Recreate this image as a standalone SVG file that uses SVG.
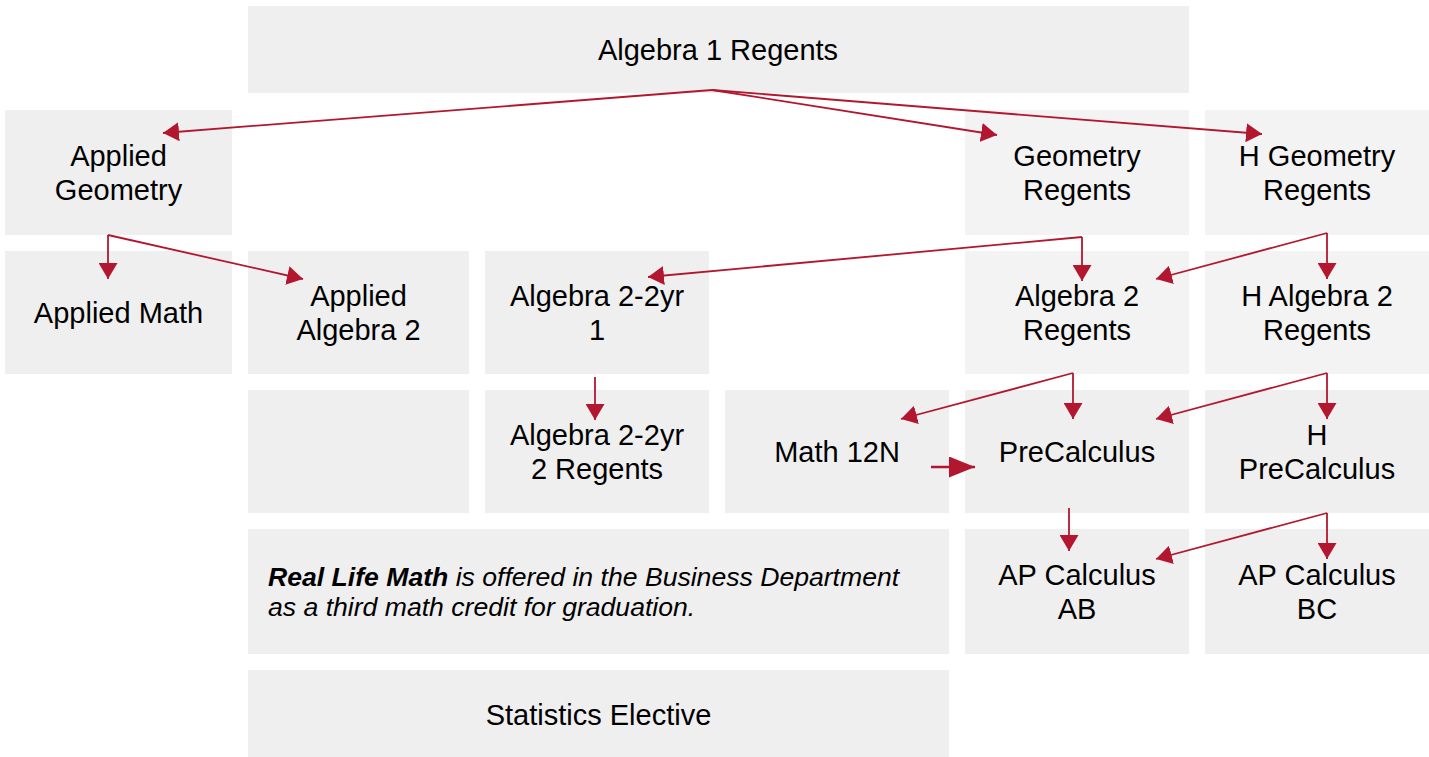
<svg xmlns="http://www.w3.org/2000/svg" width="1429" height="757" viewBox="0 0 1429 757">
<style>
.box{fill:#efefef}
.lt{fill:#f3f3f3}
.t{font-family:"Liberation Sans",Arial,sans-serif;font-size:29px;fill:#000;text-anchor:middle}
.note{font-family:"Liberation Sans",Arial,sans-serif;font-size:26.6px;font-style:italic;fill:#000}
.c{fill:none;stroke:#b3172f;stroke-width:1.8}
.c2{fill:none;stroke:#b3172f;stroke-width:2.6}
</style>
<defs>
<marker id="ah" viewBox="0 0 16 19" refX="16" refY="9.5" markerWidth="16" markerHeight="19" markerUnits="userSpaceOnUse" orient="auto"><path d="M0,0 L16,9.5 L0,19 z" fill="#b3172f"/></marker>
<marker id="ahL" viewBox="0 0 26 21" refX="26" refY="10.5" markerWidth="26" markerHeight="21" markerUnits="userSpaceOnUse" orient="auto"><path d="M0,0 L26,10.5 L0,21 z" fill="#b3172f"/></marker>
</defs>
<rect width="1429" height="757" fill="#fff"/>
<g id="alg1"><rect class="box" x="248" y="6" width="941" height="87"/><text class="t" x="718" y="60">Algebra 1 Regents</text></g>
<g id="appgeo"><rect class="box" x="5" y="110" width="227" height="125"/><text class="t" x="118.5" y="166.3">Applied</text><text class="t" x="118.5" y="199.6">Geometry</text></g>
<g id="georeg"><rect class="lt" x="965" y="110" width="224" height="125"/><text class="t" x="1077" y="166.3">Geometry</text><text class="t" x="1077" y="199.6">Regents</text></g>
<g id="hgeo"><rect class="lt" x="1205" y="110" width="224" height="125"/><text class="t" x="1317" y="166.3">H Geometry</text><text class="t" x="1317" y="199.6">Regents</text></g>
<g id="appmath"><rect class="box" x="5" y="251" width="227" height="123"/><text class="t" x="118.5" y="322.5">Applied Math</text></g>
<g id="appalg2"><rect class="box" x="248" y="251" width="221" height="123"/><text class="t" x="358.5" y="306.3">Applied</text><text class="t" x="358.5" y="339.6">Algebra 2</text></g>
<g id="alg22yr1"><rect class="box" x="485" y="251" width="224" height="123"/><text class="t" x="597" y="306.3">Algebra 2-2yr</text><text class="t" x="597" y="339.6">1</text></g>
<g id="alg2reg"><rect class="lt" x="965" y="251" width="224" height="123"/><text class="t" x="1077" y="306.3">Algebra 2</text><text class="t" x="1077" y="339.6">Regents</text></g>
<g id="halg2"><rect class="lt" x="1205" y="251" width="224" height="123"/><text class="t" x="1317" y="306.3">H Algebra 2</text><text class="t" x="1317" y="339.6">Regents</text></g>
<g id="empty"><rect class="box" x="248" y="390" width="221" height="123"/></g>
<g id="alg22yr2"><rect class="box" x="485" y="390" width="224" height="123"/><text class="t" x="597" y="445.3">Algebra 2-2yr</text><text class="t" x="597" y="478.6">2 Regents</text></g>
<g id="math12n"><rect class="box" x="725" y="390" width="224" height="123"/><text class="t" x="837" y="462">Math 12N</text></g>
<g id="precalc"><rect class="box" x="965" y="390" width="224" height="123"/><text class="t" x="1077" y="462">PreCalculus</text></g>
<g id="hprecalc"><rect class="box" x="1205" y="390" width="224" height="123"/><text class="t" x="1317" y="445.3">H</text><text class="t" x="1317" y="478.6">PreCalculus</text></g>
<g id="note"><rect class="box" x="248" y="529" width="701" height="125"/><text class="note" x="268" y="586"><tspan font-weight="bold">Real Life Math</tspan> is offered in the Business Department</text><text class="note" x="268" y="616">as a third math credit for graduation.</text></g>
<g id="apab"><rect class="box" x="965" y="529" width="224" height="125"/><text class="t" x="1077" y="585.3">AP Calculus</text><text class="t" x="1077" y="618.6">AB</text></g>
<g id="apbc"><rect class="box" x="1205" y="529" width="224" height="125"/><text class="t" x="1317" y="585.3">AP Calculus</text><text class="t" x="1317" y="618.6">BC</text></g>
<g id="stats"><rect class="box" x="248" y="670" width="701" height="87"/><text class="t" x="598.5" y="724.5">Statistics Elective</text></g>
<g id="connectors">
<path class="c" d="M712,90 L163,133" marker-end="url(#ah)"/>
<path class="c" d="M712,90 L997,135" marker-end="url(#ah)"/>
<path class="c" d="M712,90 L1262,134" marker-end="url(#ah)"/>
<path class="c" d="M108,235 L108,279" marker-end="url(#ah)"/>
<path class="c" d="M108,235 L303,279" marker-end="url(#ah)"/>
<path class="c" d="M1082,237 L648,277" marker-end="url(#ah)"/>
<path class="c" d="M1082,237 L1082,281" marker-end="url(#ah)"/>
<path class="c" d="M1327,233 L1156,279" marker-end="url(#ah)"/>
<path class="c" d="M1327,233 L1327,279" marker-end="url(#ah)"/>
<path class="c" d="M595,377 L595,420" marker-end="url(#ah)"/>
<path class="c" d="M1073,373 L901,419" marker-end="url(#ah)"/>
<path class="c" d="M1073,373 L1073,419" marker-end="url(#ah)"/>
<path class="c" d="M1327,373 L1156,419" marker-end="url(#ah)"/>
<path class="c" d="M1327,373 L1327,419" marker-end="url(#ah)"/>
<path class="c2" d="M931,467 L975,467" marker-end="url(#ahL)"/>
<path class="c" d="M1069,508 L1069,551" marker-end="url(#ah)"/>
<path class="c" d="M1327,513 L1156,559" marker-end="url(#ah)"/>
<path class="c" d="M1327,513 L1327,559" marker-end="url(#ah)"/>
</g>
</svg>
